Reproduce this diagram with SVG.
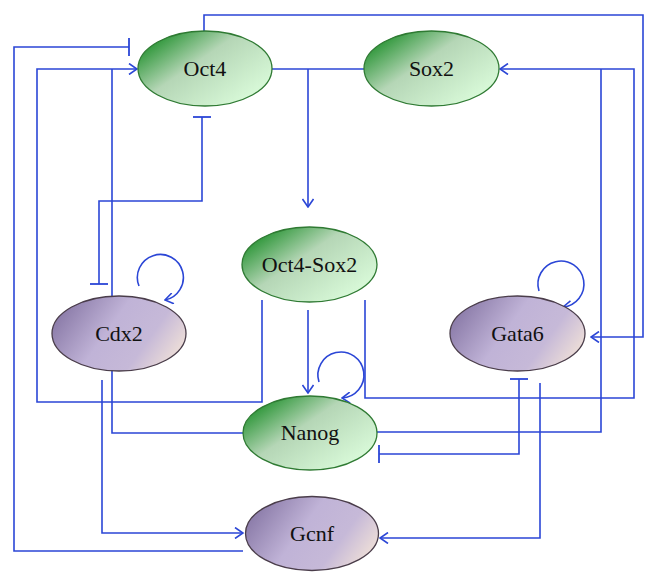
<svg xmlns="http://www.w3.org/2000/svg" width="658" height="586" viewBox="0 0 658 586">
<defs>
<linearGradient id="gGreen" x1="0.1" y1="0.1" x2="0.9" y2="0.75">
<stop offset="0" stop-color="#23912f"/>
<stop offset="0.45" stop-color="#b5d6b6"/>
<stop offset="1" stop-color="#d6f7d6"/>
</linearGradient>
<linearGradient id="gPurple" x1="0" y1="0.2" x2="1" y2="0.6">
<stop offset="0" stop-color="#8373a2"/>
<stop offset="0.45" stop-color="#c0b3d7"/>
<stop offset="0.75" stop-color="#c6b9d8"/>
<stop offset="1" stop-color="#ebdcd8"/>
</linearGradient>
<marker id="arr" viewBox="0 0 10 12" refX="9" refY="6" markerWidth="10" markerHeight="12" markerUnits="userSpaceOnUse" orient="auto">
<path d="M1,0.5 L9,6 L1,11.5" fill="none" stroke="#2b46d6" stroke-width="1.6"/>
</marker>
<marker id="bar" viewBox="0 0 4 18" refX="2" refY="9" markerWidth="4" markerHeight="18" markerUnits="userSpaceOnUse" orient="auto">
<path d="M2,0 V18" fill="none" stroke="#2b46d6" stroke-width="1.8"/>
</marker>
</defs>
<style>
.c{fill:none;stroke:#2b46d6;stroke-width:1.6}
.a{marker-end:url(#arr)}
.t{marker-end:url(#bar)}
.ts{marker-start:url(#bar)}
.gn{fill:url(#gGreen);stroke:#2f7a33;stroke-width:1.3}
.pu{fill:url(#gPurple);stroke:#4a3d4a;stroke-width:1.3}
.lb{font-family:'Liberation Serif','DejaVu Serif','Times New Roman',Times,serif;font-size:22px;fill:#111;text-anchor:middle}
</style>
<rect width="658" height="586" fill="#fff"/>
<g id="connectors">
<path class="c a" d="M204,31 V15 H643 V337 H591"/>
<path class="c" d="M272,69 H364"/>
<path class="c a" d="M308,69 V207"/>
<path class="c a" d="M365,300 V398 H634 V69 H500"/>
<path class="c" d="M377,432 H601 V69"/>
<path class="c a" d="M262,300 V402 H37 V69 H137"/>
<path class="c" d="M243,433 H112 V69"/>
<path class="c t" d="M243,551 H14 V47 H129"/>
<path class="c t ts" d="M202,117 V201 H99 V284"/>
<path class="c a" d="M102,380 V533 H243"/>
<path class="c a" d="M540,383 V538 H380"/>
<path class="c t ts" d="M519,379 V454 H379"/>
<path class="c a" d="M308,310 V393"/>
<path class="c a" d="M139,286 A23,23 0 1,1 165,300"/>
<path class="c a" d="M539,291 A23,23 0 1,1 563,307"/>
<path class="c a" d="M319,382 A23,23 0 1,1 342,398"/>
</g>
<g id="oct4"><ellipse class="gn" cx="205" cy="68.5" rx="67" ry="37.5"/><text class="lb" x="205" y="76">Oct4</text></g>
<g id="sox2"><ellipse class="gn" cx="431.5" cy="68.5" rx="67.5" ry="37.5"/><text class="lb" x="431.5" y="76">Sox2</text></g>
<g id="oct4sox2"><ellipse class="gn" cx="309.5" cy="264.5" rx="67.5" ry="37.5"/><text class="lb" x="309.5" y="272">Oct4-Sox2</text></g>
<g id="cdx2"><ellipse class="pu" cx="119" cy="333.5" rx="67" ry="37.5"/><text class="lb" x="119" y="341">Cdx2</text></g>
<g id="gata6"><ellipse class="pu" cx="517.5" cy="333.5" rx="67.5" ry="37.5"/><text class="lb" x="517.5" y="341">Gata6</text></g>
<g id="nanog"><ellipse class="gn" cx="310" cy="433" rx="67" ry="37"/><text class="lb" x="310" y="440">Nanog</text></g>
<g id="gcnf"><ellipse class="pu" cx="312" cy="533.5" rx="66.5" ry="37"/><text class="lb" x="312" y="541">Gcnf</text></g>
</svg>
